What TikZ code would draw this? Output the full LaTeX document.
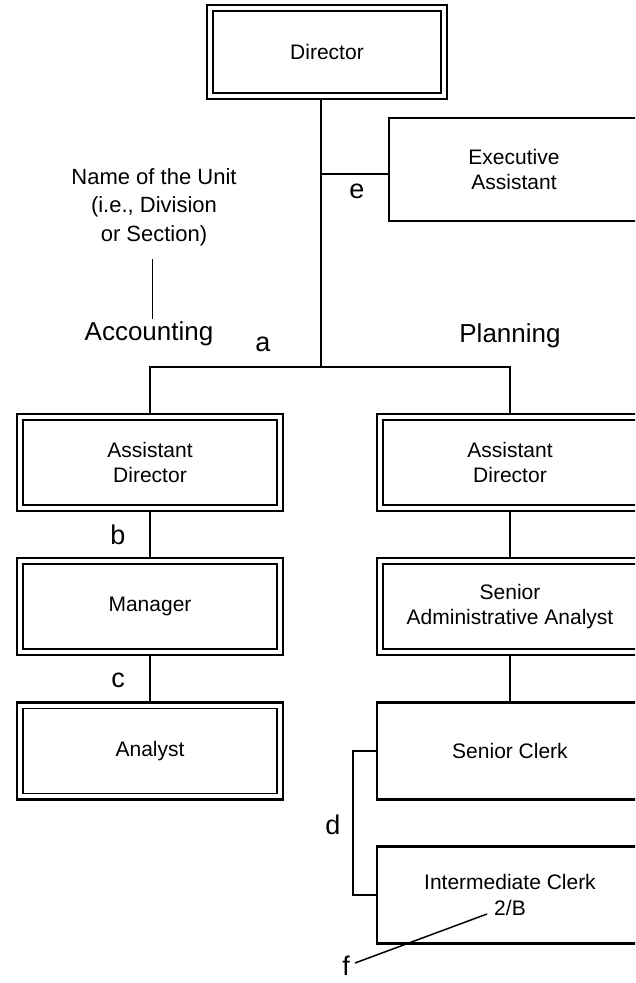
\documentclass[tikz,border=0pt]{standalone}
\usepackage{fontspec}
\setmainfont{Liberation Sans}
\newcommand{\orgfont}{\fontsize{21}{25.5}\selectfont}
\newcommand{\tagfont}{\fontsize{27}{30}\selectfont}
\newcommand{\unitfont}{\fontsize{26}{30}\selectfont}
\newcommand{\notefont}{\fontsize{22}{28.5}\selectfont}

\begin{document}
\begin{tikzpicture}[x=1pt,y=-1pt,
	dbox/.style={draw, line width=2.4pt, minimum width=266pt, minimum height=97pt,
		inner sep=0pt, align=center, font=\orgfont,
		path picture={\draw[line width=1.3pt]
			([shift={(6pt,-6pt)}]path picture bounding box.north west) rectangle
			([shift={(-6pt,6pt)}]path picture bounding box.south east);}},
	sbox/.style={draw, line width=2.2pt, minimum width=266pt, minimum height=97pt,
		inner sep=0pt, align=center, font=\orgfont},
	link/.style={line width=2pt},
	tag/.style={font=\tagfont, inner sep=0pt}]
	\useasboundingbox (0,0) rectangle (635,983);
	\clip (0,0) rectangle (635,983);
	%
	\node[dbox, minimum width=240pt, minimum height=94pt] (dir) at (327,52) {Director};
	\node[sbox, minimum width=250pt, minimum height=103pt] (exec) at (514,169.5) {Executive\\Assistant};
	\coordinate (junc) at (321,367);
	\draw[link] (dir.south -| junc) -- (junc);
	\draw[link] ([yshift=-4.5pt]exec.west -| junc) -- ([yshift=-4.5pt]exec.west);
	\node[tag] (e) at (357,191) {e};
	%
	\node[font=\notefont, align=center, inner sep=0pt] (unit) at (154,207) {Name of the Unit\\(i.e., Division\\or Section)};
	\coordinate (noteTop) at (152.7,259);
	\coordinate (noteBot) at (152.7,319);
	\draw[line width=1.5pt] (noteTop) -- (noteBot);
	\node[font=\unitfont, inner sep=0pt] (acct) at (149,334) {Accounting};
	\node[font=\unitfont, inner sep=0pt] (plan) at (510,336) {Planning};
	\node[tag] (a) at (263,344) {a};
	%
	\node[dbox] (adA) at (150,462.5) {Assistant\\Director};
	\node[dbox] (mgr) at (150,606.5) {Manager};
	\node[dbox] (anl) at (150,751) {Analyst};
	\draw[link] (adA.north) |- (junc);
	\draw[link] (adA) -- (mgr);
	\draw[link] (mgr) -- (anl);
	\node[tag] (b) at (118,535) {b};
	\node[tag] (c) at (118,680) {c};
	%
	\node[dbox] (adP) at (510,462.5) {Assistant\\Director};
	\node[dbox] (saa) at (510,606.5) {Senior\\Administrative Analyst};
	\node[sbox] (sclk) at (510,751) {Senior Clerk};
	\node[sbox] (iclk) at (510,895) {Intermediate Clerk\\2/B};
	\draw[link] (junc) -| (adP.north);
	\draw[link] (adP) -- (saa);
	\draw[link] (saa) -- (sclk);
	\draw[link] (sclk.west) -- ++(-23,0) |- (iclk.west);
	\node[tag] (d) at (333,825) {d};
	%
	\node[tag] (f) at (346,966) {f};
	\coordinate (fend) at (355,963);
	\coordinate (ftip) at (487,914);
	\draw[line width=1.5pt] (fend) -- (ftip);
\end{tikzpicture}
\end{document}
